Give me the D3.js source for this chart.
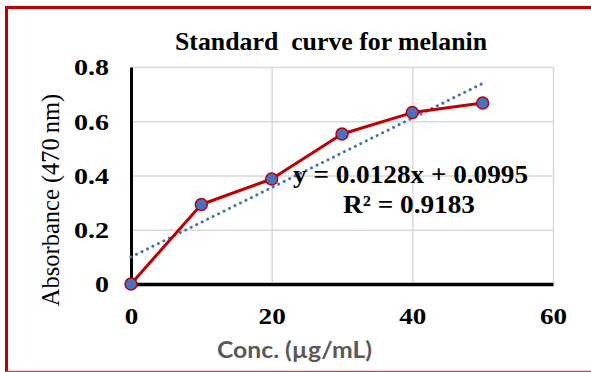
<!DOCTYPE html>
<html>
<head>
<meta charset="utf-8">
<script src="https://cdn.jsdelivr.net/npm/d3@7"></script>
<style>
  html, body { margin: 0; padding: 0; background: #ffffff; }
  svg { display: block; }
</style>
</head>
<body>
<svg id="chart" width="591" height="372"></svg>
<script>
// ---- data ----
const concentrations = [0, 10, 20, 30, 40, 50];
const absorbances = [0, 0.293, 0.387, 0.553, 0.632, 0.667];
const xTicks = [0, 20, 40, 60];
const yTicks = [0, 0.2, 0.4, 0.6, 0.8];
const yTickLabels = ["0", "0.2", "0.4", "0.6", "0.8"];
const trendSlope = [0.0128];
const trendIntercept = [0.0995];
const equationLines = ["y = 0.0128x + 0.0995", "R\u00B2 = 0.9183"];
const titleText = "Standard  curve for melanin";
const xTitle = "Conc. (\u00B5g/mL)";
const yTitle = "Absorbance (470\u2009nm)";

const svg = d3.select("#chart");
const W = 591, H = 372;
const red = "#c00000", blue = "#4472c4", grid = "#d9d9d9";
const serif = "'Liberation Serif', 'Times New Roman', serif";

const x = d3.scaleLinear().domain([0, 60]).range([131, 553]);
const y = d3.scaleLinear().domain([0, 0.8]).range([284, 67]);

// outer border (red)
svg.append("line").attr("x1", 6.5).attr("x2", W).attr("y1", 7.5).attr("y2", 7.5)
  .attr("stroke", red).attr("stroke-width", 3);
svg.append("line").attr("x1", 6.5).attr("x2", 6.5).attr("y1", 6).attr("y2", H)
  .attr("stroke", red).attr("stroke-width", 3);
svg.append("line").attr("x1", 6).attr("x2", W).attr("y1", 371.5).attr("y2", 371.5)
  .attr("stroke", "#c0504d").attr("stroke-width", 1.5);

// gridlines
const gy = svg.append("g").attr("transform", `translate(${x(0)},0)`)
  .call(d3.axisLeft(y).tickValues(yTicks.slice(1)).tickSize(-(x(60) - x(0))).tickFormat(""));
gy.select(".domain").remove();
gy.selectAll("line").attr("stroke", grid).attr("stroke-width", 1.5);

const gx = svg.append("g").attr("transform", `translate(0,${y(0)})`)
  .call(d3.axisBottom(x).tickValues(xTicks.slice(1)).tickSize(-(y(0) - y(0.8))).tickFormat(""));
gx.select(".domain").remove();
gx.selectAll("line").attr("stroke", grid).attr("stroke-width", 1.5);

function stretch(sel, k) {
  sel.each(function () {
    const w = this.getComputedTextLength();
    d3.select(this).attr("textLength", w * k).attr("lengthAdjust", "spacingAndGlyphs");
  });
}

// axes
const axL = svg.append("g").attr("transform", `translate(${x(0)},0)`)
  .call(d3.axisLeft(y).tickValues(yTicks).tickSize(0).tickPadding(22)
    .tickFormat((d, i) => yTickLabels[i]));
axL.select(".domain").attr("stroke", "#000").attr("stroke-width", 3);
axL.selectAll("text").attr("font-family", serif).attr("font-weight", "bold")
  .attr("font-size", 23).attr("fill", "#000").attr("dy", "0.34em");
stretch(axL.selectAll("text"), 1.22);

const axB = svg.append("g").attr("transform", `translate(0,${y(0)})`)
  .call(d3.axisBottom(x).tickValues(xTicks).tickSize(0).tickPadding(24)
    .tickFormat(d3.format("d")));
axB.select(".domain").attr("stroke", "#000").attr("stroke-width", 3.5);
axB.selectAll("text").attr("font-family", serif).attr("font-weight", "bold")
  .attr("font-size", 23).attr("fill", "#000");
stretch(axB.selectAll("text"), 1.18);

// trendline (linear fit as shown in the label)
const x0 = concentrations[0], x1 = concentrations[concentrations.length - 1];
svg.append("line")
  .attr("x1", x(x0)).attr("y1", y(trendSlope[0] * x0 + trendIntercept[0]))
  .attr("x2", x(x1)).attr("y2", y(trendSlope[0] * x1 + trendIntercept[0]))
  .attr("stroke", blue).attr("stroke-width", 3)
  .attr("stroke-dasharray", "0.1 6").attr("stroke-linecap", "round");

// data line
const pts = concentrations.map((c, i) => [c, absorbances[i]]);
svg.append("path").datum(pts)
  .attr("d", d3.line().x(d => x(d[0])).y(d => y(d[1])))
  .attr("fill", "none").attr("stroke", red).attr("stroke-width", 3)
  .attr("stroke-linejoin", "round");

svg.selectAll("circle.pt").data(pts).join("circle")
  .attr("class", "pt")
  .attr("cx", d => x(d[0])).attr("cy", d => y(d[1]))
  .attr("r", 6).attr("fill", blue).attr("stroke", red).attr("stroke-width", 1.5);

// equation label
svg.append("text").attr("x", 293).attr("y", 182.5)
  .attr("font-family", serif).attr("font-weight", "bold").attr("font-size", 24.5)
  .attr("textLength", 235).attr("lengthAdjust", "spacingAndGlyphs")
  .text(equationLines[0]);
svg.append("text").attr("x", 343).attr("y", 212.5)
  .attr("font-family", serif).attr("font-weight", "bold").attr("font-size", 24.5)
  .attr("textLength", 132).attr("lengthAdjust", "spacingAndGlyphs")
  .text(equationLines[1]);

// title
svg.append("text").attr("x", 175).attr("y", 50)
  .attr("font-family", serif).attr("font-weight", "bold").attr("font-size", 25.5)
  .attr("textLength", 312).attr("lengthAdjust", "spacingAndGlyphs")
  .style("white-space", "pre")
  .text(titleText);

// axis titles
svg.append("text").attr("x", 217).attr("y", 358)
  .attr("font-family", "Lato, 'Open Sans', sans-serif").attr("font-weight", "bold")
  .attr("font-size", 22).attr("fill", "#595959")
  .attr("textLength", 155).attr("lengthAdjust", "spacingAndGlyphs")
  .text(xTitle);

svg.append("text")
  .attr("transform", `translate(59,${(95 + 305) / 2}) rotate(-90)`)
  .attr("text-anchor", "middle")
  .attr("font-family", serif).attr("font-size", 24.5)
  .attr("fill", "#000")
  .text(yTitle);
</script>
</body>
</html>
